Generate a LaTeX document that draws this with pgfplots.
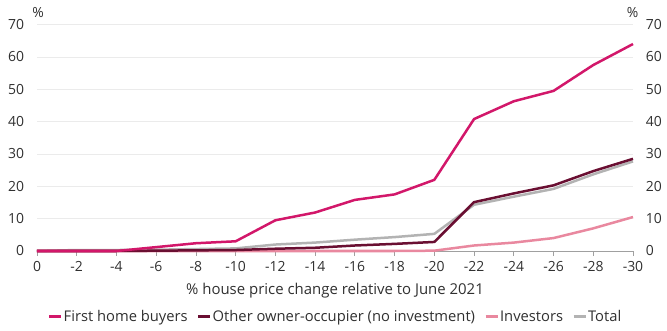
\documentclass[border=0pt]{standalone}
\usepackage{fontspec}
\setmainfont{Open Sans}
\usepackage{pgfplots}
\pgfplotsset{compat=1.18}
\definecolor{fhb}{HTML}{D2176A}
\definecolor{ooc}{HTML}{6A0F32}
\definecolor{inv}{HTML}{E9889F}
\definecolor{tot}{HTML}{B3B3B3}
\definecolor{axgray}{HTML}{A0A0A0}
\definecolor{txt}{HTML}{303030}
\pgfplotstableread{
x fhb ooc inv tot
0 0 0 0 0
-2 0 0 0 0.3
-4 0 0 0 0.3
-6 1.2 0.1 0 0.4
-8 2.4 0.2 0 0.6
-10 3.0 0.3 0 0.8
-12 9.5 0.7 0 2.0
-14 11.9 1.0 0 2.6
-16 15.8 1.7 0 3.5
-18 17.5 2.2 0 4.3
-20 22.0 2.8 0.1 5.3
-22 40.8 15.1 1.7 14.3
-24 46.3 17.8 2.6 16.8
-26 49.5 20.3 4.0 19.2
-28 57.5 24.7 7.0 23.7
-30 64.0 28.5 10.5 27.7
}\data
\begin{document}
\fontsize{14}{16}\selectfont
\begin{tikzpicture}
\begin{axis}[at={(37bp,80bp)}, anchor=south west, scale only axis,
  width=596bp, height=226.4bp,
  xmin=-30, xmax=0, x dir=reverse, ymin=0, ymax=70,
  xtick={0,-2,...,-30}, ytick={0,10,...,70},
  axis lines*=left,
  x axis line style={axgray, line width=0.8bp},
  y axis line style={draw=none},
  xtick style={axgray, line width=0.8bp},
  ytick style={draw=none},
  xtick align=outside, major tick length=5bp,
  ymajorgrids, grid style={color=black!8, line width=0.8bp},
  tick label style={txt, font=\fontsize{14}{16}\selectfont},
  /pgf/number format/assume math mode=true,
  yticklabel style={xshift=-8bp},
  xticklabel style={yshift=-1bp},
  legend style={at={(rel axis cs:0.5,-0.2915)}, anchor=center, draw=none, fill=none,
    font=\fontsize{14.8}{17}\selectfont, text=txt,
    /tikz/every even column/.append style={column sep=8bp},
    nodes={inner sep=1bp}},
  legend columns=4,
  legend image code/.code={\draw[#1] (0bp,0bp) -- (12bp,0bp);},
  every axis plot/.append style={line width=2.5bp, line join=round, mark=none},
  clip=false,
]
\addplot[tot] table[x=x,y=tot]{\data};
\addplot[inv] table[x=x,y=inv]{\data};
\addplot[ooc] table[x=x,y=ooc]{\data};
\addplot[fhb] table[x=x,y=fhb]{\data};
\addlegendimage{fhb, line width=3bp}
\addlegendimage{ooc, line width=3bp}
\addlegendimage{inv, line width=3bp}
\addlegendimage{tot, line width=3bp}
\legend{,,,,First home buyers, Other owner-occupier (no investment), Investors, Total}
\end{axis}
\begin{axis}[at={(37bp,80bp)}, anchor=south west, scale only axis,
  width=596bp, height=226.4bp,
  xmin=-30, xmax=0, x dir=reverse, ymin=0, ymax=70,
  ytick={0,10,...,70},
  axis y line*=right, hide x axis,
  y axis line style={draw=none},
  ytick style={draw=none},
  tick label style={txt, font=\fontsize{14}{16}\selectfont},
  /pgf/number format/assume math mode=true,
  yticklabel style={xshift=8bp},
]
\addplot[draw=none] coordinates {(0,0)};
\end{axis}
\node[txt] at (38bp,318.5bp) {\%};
\node[txt] at (632.5bp,318bp) {\%};
\node[txt, font=\fontsize{15}{17}\selectfont] at (335bp,40bp) {\% house price change relative to June 2021};
\pgfresetboundingbox
\path[use as bounding box] (0,0) rectangle (667bp,331bp);
\end{tikzpicture}
\end{document}
